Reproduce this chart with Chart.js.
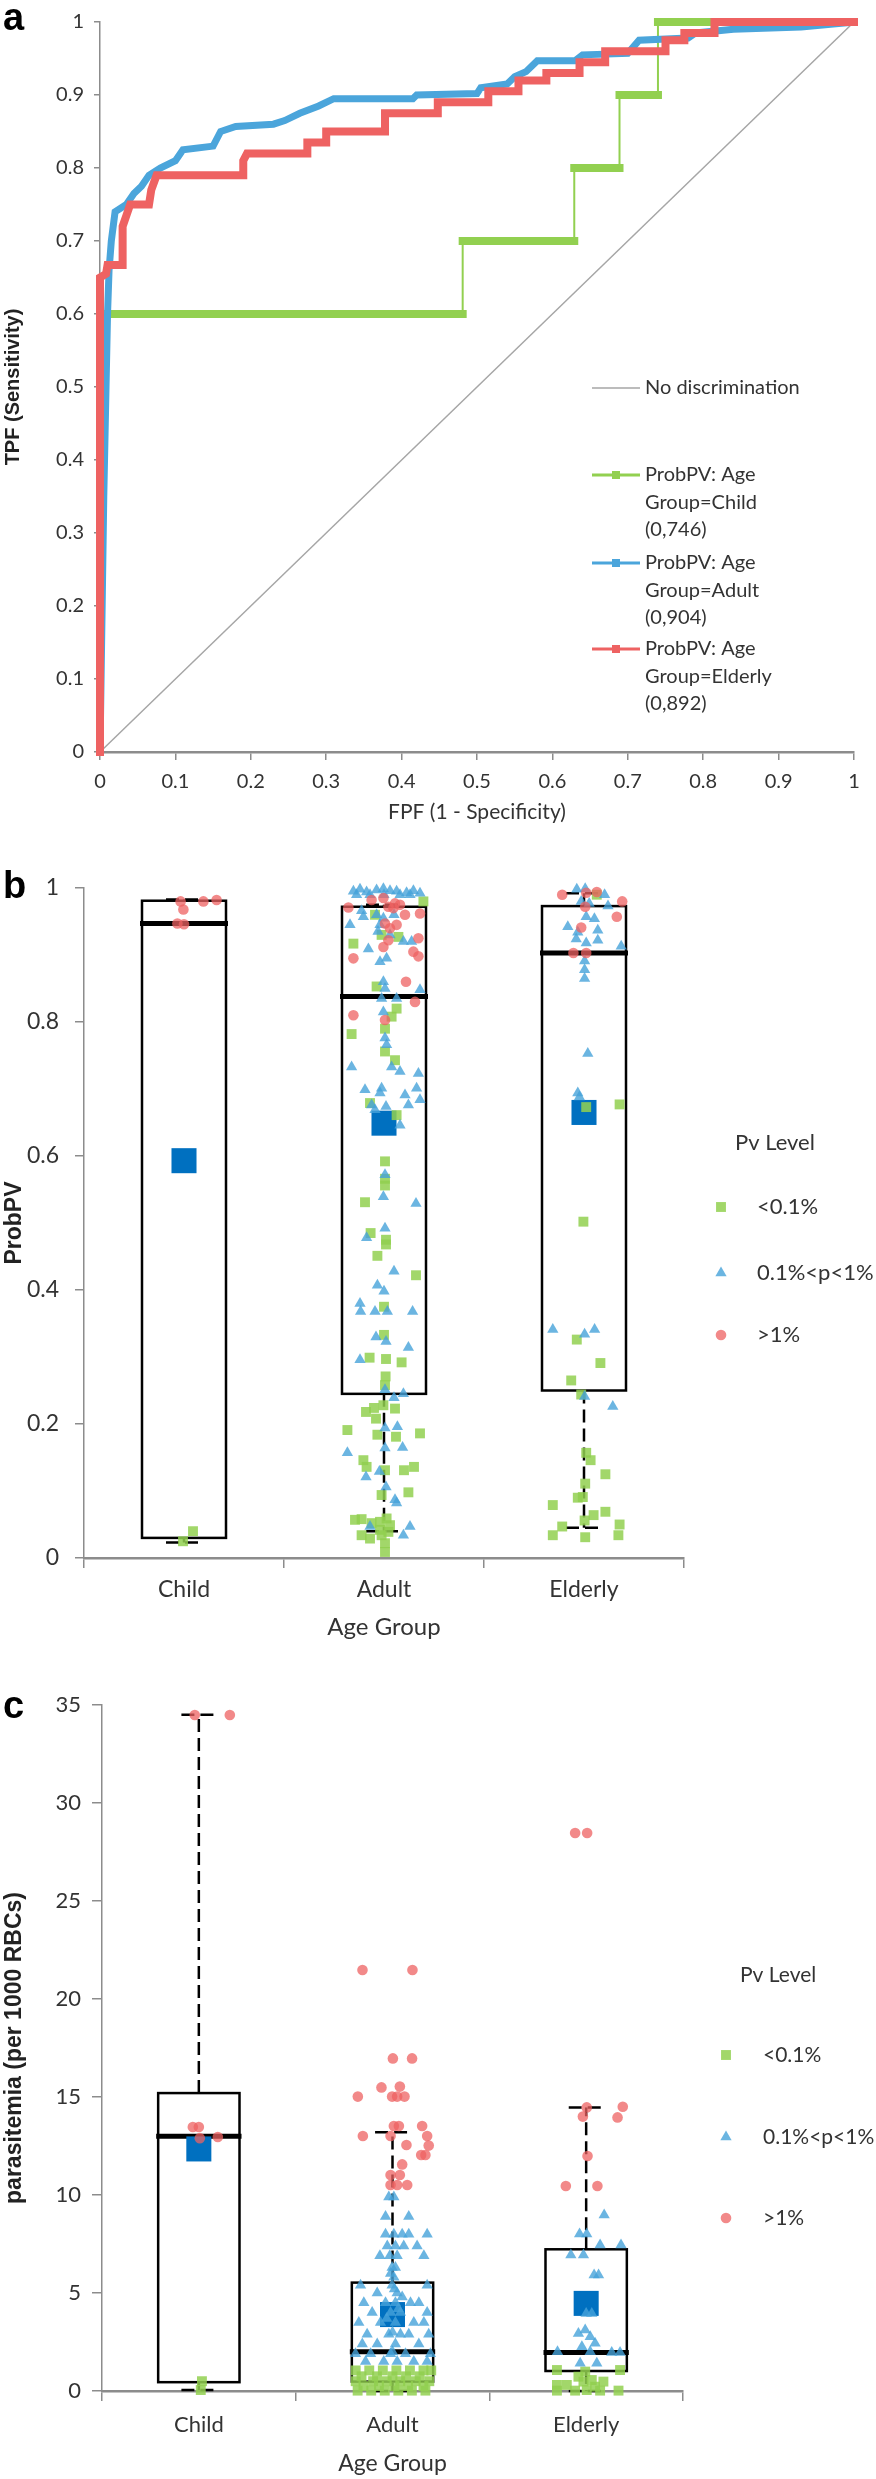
<!DOCTYPE html>
<html>
<head>
<meta charset="utf-8">
<script src="https://cdn.jsdelivr.net/npm/chart.js@4.4.1/dist/chart.umd.min.js"></script>
<style>
  body { margin: 0; background: #fff; }
  #page { position: relative; width: 876px; height: 2479px; overflow: hidden; background: #fff; }
  canvas { position: absolute; left: 0; }
  .letter { position: absolute; left: 3px; font: bold 38px "Liberation Sans", Arial, sans-serif; line-height: 38px; color: #000; }
</style>
</head>
<body>
<div id="page">
  <canvas id="rocChart" width="876" height="830" style="top:0"></canvas>
  <canvas id="probChart" width="876" height="805" style="top:840px"></canvas>
  <canvas id="paraChart" width="876" height="829" style="top:1650px"></canvas>
  <div class="letter" style="top:-2px">a</div>
  <div class="letter" style="top:866px">b</div>
  <div class="letter" style="top:1686px">c</div>
</div>
<script>
// ---- panel a: ROC curves (FPF, TPF) ----
const childFpf = [0, 0, 0.481, 0.481, 0.629, 0.629, 0.689, 0.689, 0.74, 0.74, 1];
const childTpf = [0, 0.6, 0.6, 0.7, 0.7, 0.8, 0.8, 0.9, 0.9, 1, 1];

const adultFpf = [0, 0.005, 0.008, 0.01, 0.012, 0.015, 0.02, 0.035, 0.045, 0.055, 0.065, 0.08, 0.1, 0.11, 0.15, 0.16, 0.18, 0.23, 0.245, 0.265, 0.29, 0.31, 0.415, 0.42, 0.5, 0.505, 0.54, 0.55, 0.565, 0.58, 0.63, 0.64, 0.7, 0.715, 0.78, 0.79, 0.84, 0.93, 1];
const adultTpf = [0, 0.35, 0.5, 0.6, 0.66, 0.7, 0.74, 0.75, 0.765, 0.775, 0.79, 0.8, 0.81, 0.825, 0.83, 0.85, 0.857, 0.86, 0.865, 0.875, 0.885, 0.895, 0.895, 0.9, 0.902, 0.91, 0.915, 0.925, 0.932, 0.947, 0.947, 0.955, 0.957, 0.975, 0.978, 0.985, 0.99, 0.993, 1];

const elderlyFpf = [0, 0, 0.008, 0.01, 0.03, 0.03, 0.035, 0.04, 0.065, 0.068, 0.075, 0.19, 0.19, 0.195, 0.275, 0.275, 0.3, 0.3, 0.378, 0.378, 0.448, 0.448, 0.515, 0.515, 0.555, 0.555, 0.592, 0.592, 0.636, 0.636, 0.67, 0.67, 0.75, 0.75, 0.775, 0.775, 0.815, 0.815, 1];
const elderlyTpf = [0, 0.65, 0.655, 0.667, 0.667, 0.72, 0.735, 0.75, 0.75, 0.77, 0.79, 0.79, 0.81, 0.82, 0.82, 0.835, 0.835, 0.85, 0.85, 0.875, 0.875, 0.89, 0.89, 0.905, 0.905, 0.92, 0.92, 0.93, 0.93, 0.945, 0.945, 0.96, 0.96, 0.975, 0.975, 0.985, 0.985, 1, 1];

const diagonalFpf = [0, 1];
const diagonalTpf = [0, 1];

const rocLegendLines = [
  ['No discrimination'],
  ['ProbPV: Age', 'Group=Child', '(0,746)'],
  ['ProbPV: Age', 'Group=Adult', '(0,904)'],
  ['ProbPV: Age', 'Group=Elderly', '(0,892)'],
];

// ---- panels b and c: categories, levels ----
const ageGroups = ['Child', 'Adult', 'Elderly'];
const levelNames = ['<0.1%', '0.1%<p<1%', '>1%'];
const levelTitle = 'Pv Level';

// box statistics, one value per age group
const probQ1 = [0.03, 0.245, 0.25];
const probMedian = [0.947, 0.838, 0.903];
const probQ3 = [0.981, 0.972, 0.973];
const probWhiskerLow = [0.023, 0.04, 0.045];
const probWhiskerHigh = [0.983, 0.975, 0.992];
const probMean = [0.593, 0.649, 0.665];

const paraQ1 = [0.45, 0.48, 1.02];
const paraMedian = [13.0, 2.0, 1.97];
const paraQ3 = [15.2, 5.53, 7.23];
const paraWhiskerLow = [0.05, 0, 0];
const paraWhiskerHigh = [34.5, 13.2, 14.47];
const paraMean = [12.35, 3.9, 4.47];

// points: [age group (1..3), jitter, value]
const probLow = [
  [1, -0.005, 0.025], [1, 0.045, 0.04],
  [2, 0.197, 0.98], [2, -0.045, 0.96], [2, -0.153, 0.917], [2, -0.012, 0.93], [2, 0.072, 0.927], [2, -0.037, 0.853],
  [2, 0.063, 0.82], [2, 0.038, 0.808], [2, -0.162, 0.782], [2, 0.005, 0.79], [2, 0.005, 0.756], [2, 0.055, 0.743],
  [2, -0.07, 0.679], [2, 0.063, 0.661], [2, 0.005, 0.592], [2, 0.005, 0.566], [2, 0.005, 0.556], [2, -0.095, 0.531],
  [2, -0.067, 0.485], [2, 0.01, 0.475], [2, 0.01, 0.468], [2, -0.033, 0.451], [2, 0.16, 0.422], [2, 0, 0.375],
  [2, 0, 0.333], [2, -0.072, 0.299], [2, 0.01, 0.297], [2, 0.088, 0.292], [2, 0.008, 0.271], [2, 0.005, 0.258],
  [2, -0.09, 0.218], [2, -0.05, 0.224], [2, -0.003, 0.228], [2, 0.055, 0.223], [2, -0.04, 0.208], [2, -0.183, 0.191],
  [2, -0.033, 0.184], [2, 0.06, 0.181], [2, 0.18, 0.186], [2, -0.103, 0.146], [2, -0.087, 0.136], [2, 0.005, 0.131],
  [2, 0.1, 0.131], [2, 0.15, 0.136], [2, -0.012, 0.094], [2, 0.122, 0.098], [2, -0.145, 0.057], [2, -0.112, 0.058],
  [2, -0.062, 0.052], [2, -0.02, 0.054], [2, 0.013, 0.059], [2, 0.03, 0.049], [2, -0.112, 0.034], [2, -0.07, 0.029],
  [2, -0.012, 0.034], [2, 0.005, 0.022], [2, 0.005, 0.009], [2, -0.02, 0.042], [2, 0.022, 0.039],
  [3, 0.064, 0.99], [3, 0.011, 0.673], [3, 0.178, 0.677], [3, -0.003, 0.502], [3, -0.036, 0.326], [3, 0.082, 0.291],
  [3, -0.064, 0.265], [3, -0.014, 0.244], [3, 0.011, 0.157], [3, 0.033, 0.146], [3, 0.107, 0.125], [3, 0.006, 0.111],
  [3, -0.031, 0.09], [3, -0.006, 0.091], [3, -0.156, 0.079], [3, 0.048, 0.064], [3, 0.107, 0.069], [3, 0.003, 0.056],
  [3, -0.109, 0.047], [3, -0.156, 0.034], [3, 0.178, 0.05], [3, 0.172, 0.034], [3, 0.006, 0.031],
];
const probMid = [
  [2, -0.153, 0.995], [2, -0.12, 0.998], [2, -0.087, 0.994], [2, -0.037, 0.997], [2, -0.003, 0.999], [2, 0.03, 0.996],
  [2, 0.063, 0.995], [2, 0.113, 0.993], [2, 0.147, 0.996], [2, 0.18, 0.992],
  [2, -0.137, 0.99], [2, -0.07, 0.99], [2, 0, 0.99], [2, 0.08, 0.99], [2, 0.13, 0.99],
  [2, -0.112, 0.966], [2, -0.103, 0.957], [2, -0.037, 0.96], [2, -0.003, 0.955],
  [2, -0.02, 0.945], [2, 0.03, 0.93], [2, 0.05, 0.96], [2, -0.03, 0.935],
  [2, -0.17, 0.945], [2, -0.078, 0.909], [2, 0.097, 0.92], [2, 0.138, 0.92], [2, -0.02, 0.89], [2, 0.013, 0.895],
  [2, -0.003, 0.86], [2, 0.005, 0.85], [2, -0.012, 0.835], [2, 0.063, 0.835], [2, 0.18, 0.848], [2, -0.003, 0.815],
  [2, 0.005, 0.776], [2, 0.013, 0.766], [2, -0.162, 0.733], [2, 0.038, 0.733], [2, 0.08, 0.726], [2, 0.172, 0.723],
  [2, -0.095, 0.699], [2, -0.012, 0.701], [2, -0.02, 0.694], [2, 0.105, 0.691], [2, 0.163, 0.701], [2, 0.18, 0.684],
  [2, -0.062, 0.676], [2, -0.045, 0.669], [2, 0.01, 0.674], [2, 0.122, 0.676], [2, 0.08, 0.646], [2, 0.005, 0.572],
  [2, -0.003, 0.539], [2, 0.16, 0.529],
  [2, 0.005, 0.492], [2, -0.087, 0.478], [2, 0.05, 0.428], [2, -0.033, 0.407], [2, 0, 0.398], [2, -0.12, 0.38],
  [2, -0.117, 0.368], [2, -0.045, 0.368], [2, 0.017, 0.368], [2, 0.143, 0.368], [2, -0.04, 0.33], [2, 0.01, 0.323],
  [2, 0.122, 0.314], [2, -0.12, 0.296], [2, 0.005, 0.251], [2, 0.05, 0.239], [2, 0.097, 0.245], [2, 0.005, 0.194],
  [2, 0.067, 0.196], [2, -0.183, 0.157], [2, 0.005, 0.164], [2, 0.093, 0.165], [2, -0.023, 0.129], [2, -0.09, 0.121],
  [2, 0.01, 0.106], [2, 0.055, 0.087], [2, 0.063, 0.082], [2, -0.07, 0.047], [2, 0.13, 0.047], [2, 0.097, 0.034],
  [3, -0.036, 0.998], [3, 0.006, 0.999], [3, 0.103, 0.99], [3, -0.014, 0.98], [3, 0.026, 0.977], [3, 0.12, 0.973],
  [3, 0.011, 0.957], [3, 0.052, 0.954], [3, -0.081, 0.942], [3, -0.031, 0.934], [3, 0.069, 0.937], [3, -0.039, 0.924],
  [3, 0.069, 0.922], [3, 0.011, 0.918], [3, 0.186, 0.913], [3, 0.003, 0.891], [3, 0.003, 0.878], [3, 0.003, 0.865],
  [3, 0.019, 0.753], [3, -0.031, 0.694], [3, -0.023, 0.688], [3, -0.156, 0.341], [3, 0.003, 0.334], [3, 0.053, 0.341],
  [3, 0.003, 0.241], [3, 0.144, 0.226],
];
const probHigh = [
  [1, -0.017, 0.98], [1, -0.003, 0.968], [1, 0.097, 0.98], [1, 0.163, 0.982], [1, -0.033, 0.947], [1, 0, 0.946],
  [2, -0.178, 0.971], [2, -0.062, 0.982], [2, -0.003, 0.985], [2, 0.022, 0.972], [2, 0.055, 0.977], [2, 0.047, 0.97],
  [2, 0.08, 0.975], [2, 0.105, 0.96], [2, 0.18, 0.962], [2, 0.005, 0.947], [2, 0.063, 0.945], [2, 0.03, 0.94],
  [2, 0.022, 0.922], [2, -0.003, 0.912], [2, 0.172, 0.925], [2, -0.153, 0.895], [2, 0.147, 0.905], [2, 0.172, 0.898],
  [2, 0.11, 0.86], [2, 0.155, 0.83], [2, -0.153, 0.81], [2, 0.005, 0.803],
  [3, -0.109, 0.99], [3, 0.011, 0.993], [3, 0.064, 0.994], [3, 0.191, 0.98], [3, 0.006, 0.972], [3, 0.164, 0.957],
  [3, -0.014, 0.941], [3, -0.053, 0.903], [3, 0.011, 0.903],
];

const paraLow = [
  [1, 0.016, 0.5], [1, 0.01, 0.05],
  [2, -0.19, 1.05], [2, -0.12, 1.05], [2, -0.05, 1.05], [2, 0.02, 1.05], [2, 0.09, 1.05], [2, 0.16, 1.05], [2, 0.2, 1.05],
  [2, -0.16, 0.75], [2, -0.08, 0.75], [2, 0, 0.75], [2, 0.07, 0.75], [2, 0.14, 0.75],
  [2, -0.19, 0.5], [2, -0.1, 0.5], [2, -0.03, 0.5], [2, 0.04, 0.5], [2, 0.12, 0.5], [2, 0.19, 0.5],
  [2, -0.15, 0.25], [2, -0.07, 0.25], [2, 0.01, 0.25], [2, 0.08, 0.25], [2, 0.16, 0.25],
  [2, -0.18, 0.02], [2, -0.11, 0.02], [2, -0.04, 0.02], [2, 0.03, 0.02], [2, 0.1, 0.02], [2, 0.17, 0.02],
  [3, -0.151, 1.07], [3, 0.175, 1.07], [3, -0.005, 0.99], [3, -0.04, 0.73], [3, -0.151, 0.31], [3, -0.1, 0.31],
  [3, -0.014, 0.48], [3, 0.029, 0.56], [3, 0.089, 0.48], [3, 0.046, 0.22], [3, -0.057, 0.02], [3, -0.151, 0.02],
  [3, 0.072, 0.02], [3, 0.167, 0.02], [3, 0.003, 0.05],
];
const paraMid = [
  [2, -0.019, 9.9], [2, 0.007, 9.9], [2, -0.036, 8.9], [2, 0.084, 8.9],
  [2, -0.036, 8.0], [2, 0.007, 8.0], [2, 0.05, 8.0], [2, 0.084, 8.0], [2, 0.179, 8.0],
  [2, -0.027, 7.4], [2, 0.015, 7.4], [2, 0.058, 7.4], [2, 0.127, 7.4],
  [2, -0.065, 6.9], [2, -0.014, 6.9], [2, 0.024, 6.9], [2, 0.162, 6.9],
  [2, -0.002, 6.3], [2, 0.015, 6.3], [2, 0.007, 5.8], [2, -0.165, 5.4], [2, -0.002, 5.4], [2, 0.179, 5.4],
  [2, -0.079, 5.0], [2, 0.024, 5.0],
  [2, -0.148, 4.5], [2, -0.036, 4.5], [2, 0.015, 4.5], [2, 0.093, 4.5], [2, 0.136, 4.5],
  [2, -0.105, 4.0], [2, -0.01, 4.0], [2, 0.041, 4.0], [2, 0.179, 4.0],
  [2, -0.174, 3.5], [2, -0.062, 3.5], [2, 0.015, 3.5], [2, 0.11, 3.5], [2, 0.162, 3.5],
  [2, -0.131, 2.9], [2, -0.019, 2.9], [2, 0.041, 2.9], [2, 0.084, 2.9], [2, 0.187, 2.9],
  [2, -0.156, 2.4], [2, -0.079, 2.4], [2, 0.015, 2.4], [2, 0.136, 2.4],
  [2, -0.191, 1.9], [2, -0.113, 1.9], [2, -0.01, 1.9], [2, 0.067, 1.9], [2, 0.196, 1.9],
  [2, -0.139, 1.5], [2, -0.045, 1.5], [2, 0.024, 1.5], [2, 0.11, 1.5], [2, 0.179, 1.5],
  [2, 0, 3.0], [2, 0.03, 4.2], [2, 0.01, 5.2], [2, 0, 2.0], [2, -0.03, 3.7], [2, 0.05, 4.8], [2, -0.01, 6.0],
  [3, 0.093, 8.98], [3, -0.034, 8.01], [3, 0.003, 8.01], [3, 0.072, 7.45], [3, 0.18, 7.45], [3, -0.079, 6.94],
  [3, -0.014, 6.94], [3, 0.041, 5.92], [3, 0.064, 5.92], [3, 0, 3.96], [3, 0.029, 3.96], [3, -0.04, 2.94],
  [3, -0.005, 3.11], [3, 0.021, 2.77], [3, 0.046, 2.43], [3, -0.022, 2.26], [3, -0.148, 2.0], [3, 0.021, 2.0],
  [3, 0.132, 1.96], [3, 0.175, 1.96], [3, -0.031, 1.41], [3, 0.055, 1.41],
];
const paraHigh = [
  [1, -0.021, 34.49], [1, 0.16, 34.49], [1, -0.031, 13.47], [1, 0, 13.47], [1, 0.005, 12.9], [1, 0.098, 12.96],
  [2, 0.002, 16.97], [2, 0.101, 16.97], [2, -0.057, 15.49], [2, 0.038, 15.53], [2, -0.179, 15.02], [2, -0.002, 15.02],
  [2, 0.024, 15.02], [2, 0.062, 15.02], [2, 0.007, 13.52], [2, 0.033, 13.52], [2, 0.153, 13.52], [2, -0.153, 13.01],
  [2, -0.01, 13.01], [2, 0.179, 13.01], [2, 0.072, 12.55], [2, 0.187, 12.52], [2, 0.148, 12.04], [2, 0.17, 12.04],
  [2, 0.05, 11.56], [2, -0.01, 11.02], [2, 0.038, 11.02], [2, -0.01, 10.51], [2, 0.024, 10.51], [2, 0.076, 10.51],
  [2, -0.155, 21.48], [2, 0.103, 21.48],
  [3, 0.003, 14.47], [3, -0.017, 14.0], [3, 0.189, 14.5], [3, 0.162, 13.96], [3, 0.007, 11.99], [3, -0.105, 10.46],
  [3, 0.058, 10.46], [3, -0.057, 28.47], [3, 0.005, 28.47],
];

// ---- styling ----
const FONT = 'Lato, "Liberation Sans", sans-serif';
const TITLE_FONT = '"Liberation Sans", Arial, sans-serif';
const AXIS = '#8c8c8c';
const TEXT = '#333333';
const ROC_COLORS = ['#92d050', '#4ba5db', '#ee6262'];
const DIAG_COLOR = '#a6a6a6';
const LEVEL_COLORS = ['rgba(146, 208, 80, 0.85)', 'rgba(70, 163, 218, 0.8)', 'rgba(238, 98, 98, 0.75)'];
const LEVEL_STYLES = ['rect', 'triangle', 'circle'];
const LEVEL_RADII = [7, 6.5, 5.3];
const MEAN_COLOR = '#0070c0';

Chart.defaults.font.family = FONT;
Chart.defaults.color = TEXT;
Chart.defaults.animation = false;
Chart.defaults.events = [];
Chart.defaults.plugins.legend.display = false;
Chart.defaults.plugins.tooltip.enabled = false;

const zip = (xs, ys) => xs.map((x, i) => ({ x, y: ys[i] }));
const toPoints = (rows) => rows.map(([g, j, v]) => ({ x: g + j, y: v }));
const plainNumber = (v) => String(Number(v.toFixed(2)));

// ---- panel a ----
const rocLegendPlugin = {
  id: 'rocLegend',
  afterDatasetsDraw(chart) {
    const ctx = chart.ctx;
    const colors = [DIAG_COLOR, ...ROC_COLORS];
    const tops = [388, 475, 563, 649];
    ctx.save();
    ctx.font = '20px ' + FONT;
    ctx.textBaseline = 'middle';
    rocLegendLines.forEach((lines, i) => {
      const y = tops[i];
      ctx.strokeStyle = colors[i];
      ctx.lineWidth = i === 0 ? 1.5 : 3;
      ctx.beginPath();
      ctx.moveTo(592, y);
      ctx.lineTo(640, y);
      ctx.stroke();
      if (i > 0) {
        ctx.fillStyle = colors[i];
        ctx.fillRect(612, y - 4, 8, 8);
      }
      ctx.fillStyle = TEXT;
      lines.forEach((t, k) => ctx.fillText(t, 645, y + k * 27.5));
    });
    ctx.restore();
  },
};

const rocLine = (data, color, order, extra) => Object.assign({
  data, showLine: true, borderColor: color, backgroundColor: color,
  pointRadius: 0, order, clip: false,
  borderCapStyle: 'square', borderJoinStyle: 'miter',
}, extra);

new Chart(document.getElementById('rocChart'), {
  type: 'scatter',
  data: {
    datasets: [
      rocLine(zip(diagonalFpf, diagonalTpf), DIAG_COLOR, 4, { borderWidth: 1.5, borderCapStyle: 'butt' }),
      rocLine(zip(childFpf, childTpf), ROC_COLORS[0], 3, {
        borderWidth: 2,
        segment: { borderWidth: (c) => (c.p0.parsed.y === c.p1.parsed.y ? 8 : 2) },
      }),
      rocLine(zip(adultFpf, adultTpf), ROC_COLORS[1], 2, { borderWidth: 7 }),
      rocLine(zip(elderlyFpf, elderlyTpf), ROC_COLORS[2], 1, { borderWidth: 8 }),
    ],
  },
  options: {
    responsive: false,
    layout: { padding: { top: 12, right: 22, bottom: 5, left: 0 } },
    scales: {
      x: {
        type: 'linear', min: 0, max: 1,
        ticks: { stepSize: 0.1, font: { size: 20 }, padding: 10, maxRotation: 0, color: TEXT, callback: plainNumber },
        grid: { drawOnChartArea: false, tickLength: 8, color: AXIS, lineWidth: 1.5 },
        border: { color: AXIS, width: 2.5 },
        title: { display: true, text: 'FPF (1 - Specificity)', font: { size: 21 }, padding: 0, color: TEXT },
        afterFit: (s) => { s.height = 73; },
      },
      y: {
        type: 'linear', min: 0, max: 1,
        ticks: { stepSize: 0.1, font: { size: 20 }, padding: 10, color: TEXT, callback: plainNumber },
        grid: { drawOnChartArea: false, tickLength: 6, color: AXIS, lineWidth: 1.5 },
        border: { color: AXIS, width: 1.5 },
        title: { display: true, text: 'TPF (Sensitivity)', font: { family: TITLE_FONT, size: 20, weight: 'bold' }, padding: { top: 1, bottom: 0 }, color: '#222' },
        afterFit: (s) => { s.width = 100; },
      },
    },
  },
  plugins: [rocLegendPlugin],
});

// ---- panels b and c ----
function makeBoxPlugin(stats, halfWidth, capHalf) {
  return {
    id: 'boxes',
    beforeDatasetsDraw(chart) {
      const { ctx, scales: { x, y } } = chart;
      ctx.save();
      ctx.strokeStyle = '#000';
      stats.q1.forEach((q1, i) => {
        const g = i + 1;
        const left = x.getPixelForValue(g - halfWidth);
        const right = x.getPixelForValue(g + halfWidth);
        const cx = x.getPixelForValue(g);
        const top = y.getPixelForValue(stats.q3[i]);
        const bottom = y.getPixelForValue(q1);
        const med = y.getPixelForValue(stats.median[i]);
        const hi = y.getPixelForValue(stats.whiskerHigh[i]);
        const lo = y.getPixelForValue(stats.whiskerLow[i]);
        const capL = x.getPixelForValue(g - capHalf);
        const capR = x.getPixelForValue(g + capHalf);
        // whiskers and caps, dashed
        ctx.lineWidth = 2.5;
        ctx.setLineDash([13, 6]);
        ctx.beginPath();
        ctx.moveTo(cx, top); ctx.lineTo(cx, hi);
        ctx.moveTo(cx, bottom); ctx.lineTo(cx, lo);
        ctx.moveTo(capL, hi); ctx.lineTo(capR, hi);
        ctx.moveTo(capL, lo); ctx.lineTo(capR, lo);
        ctx.stroke();
        // box
        ctx.setLineDash([]);
        ctx.lineWidth = 2.5;
        ctx.strokeRect(left, top, right - left, bottom - top);
        // median
        ctx.lineWidth = 5;
        ctx.beginPath();
        ctx.moveTo(left - 2, med); ctx.lineTo(right + 2, med);
        ctx.stroke();
      });
      ctx.restore();
    },
  };
}

function makeLevelLegend(pos, size) {
  return {
    id: 'levelLegend',
    afterDraw(chart) {
      const ctx = chart.ctx;
      ctx.save();
      ctx.font = size + 'px ' + FONT;
      ctx.textBaseline = 'middle';
      ctx.fillStyle = TEXT;
      ctx.fillText(levelTitle, pos.titleX, pos.titleY);
      levelNames.forEach((name, i) => {
        ctx.fillStyle = LEVEL_COLORS[i];
        Chart.helpers.drawPoint(ctx, { pointStyle: LEVEL_STYLES[i], radius: LEVEL_RADII[i], borderWidth: 0, rotation: 0 }, pos.markerX, pos.rows[i]);
        ctx.fillStyle = TEXT;
        ctx.fillText(name, pos.textX, pos.rows[i]);
      });
      ctx.restore();
    },
  };
}

function boxChart(id, cfg) {
  const levels = [cfg.low, cfg.mid, cfg.high];
  const datasets = levels.map((rows, i) => ({
    label: levelNames[i],
    data: toPoints(rows),
    pointStyle: LEVEL_STYLES[i],
    pointRadius: LEVEL_RADII[i],
    pointBackgroundColor: LEVEL_COLORS[i],
    pointBorderWidth: 0,
    order: 3 - i,
  }));
  datasets.push({
    label: 'Mean',
    data: cfg.stats.mean.map((v, i) => ({ x: i + 1, y: v })),
    pointStyle: 'rect',
    pointRadius: 17.7,
    pointBackgroundColor: MEAN_COLOR,
    pointBorderWidth: 0,
    order: 5,
  });
  return new Chart(document.getElementById(id), {
    type: 'scatter',
    data: { datasets },
    options: {
      responsive: false,
      clip: false,
      layout: { padding: cfg.padding },
      scales: {
        x: {
          type: 'linear', min: 0.5, max: ageGroups.length + 0.5,
          afterBuildTicks: (s) => {
            s.ticks = [];
            for (let v = 0.5; v <= ageGroups.length + 0.5; v += 0.5) s.ticks.push({ value: v });
          },
          ticks: {
            autoSkip: false, maxRotation: 0, font: { size: cfg.fontSize }, padding: cfg.xPad, color: TEXT,
            callback: (v) => (Number.isInteger(v) ? ageGroups[v - 1] : ''),
          },
          grid: {
            drawOnChartArea: false, tickLength: 10, lineWidth: 1.5,
            color: (c) => (c.tick && Number.isInteger(c.tick.value) ? 'rgba(0,0,0,0)' : AXIS),
          },
          border: { color: AXIS, width: 2.5 },
          title: { display: true, text: 'Age Group', font: { size: cfg.fontSize + 1 }, padding: 0, color: TEXT },
          afterFit: (s) => { s.height = cfg.xHeight; },
        },
        y: {
          type: 'linear', min: 0, max: cfg.yMax,
          ticks: { stepSize: cfg.yStep, font: { size: cfg.fontSize }, padding: cfg.yPad, color: TEXT, callback: plainNumber },
          grid: { drawOnChartArea: false, tickLength: cfg.yTick, color: AXIS, lineWidth: 1.5 },
          border: { color: AXIS, width: 1.5 },
          title: { display: true, text: cfg.yTitle, font: { family: TITLE_FONT, size: 23, weight: 'bold' }, padding: { top: 1, bottom: 0 }, color: '#222' },
          afterFit: (s) => { s.width = cfg.yWidth; },
        },
      },
    },
    plugins: [
      makeBoxPlugin(cfg.stats, 0.21, 0.09),
      makeLevelLegend(cfg.legend, cfg.fontSize - 1),
    ],
  });
}

boxChart('probChart', {
  low: probLow, mid: probMid, high: probHigh,
  stats: { q1: probQ1, median: probMedian, q3: probQ3, whiskerLow: probWhiskerLow, whiskerHigh: probWhiskerHigh, mean: probMean },
  yMax: 1, yStep: 0.2, yTitle: 'ProbPV',
  fontSize: 23, xPad: 8, yPad: 16, yTick: 9, yWidth: 84, xHeight: 84,
  padding: { top: 48, right: 192, bottom: 3, left: 0 },
  legend: { titleX: 735, titleY: 303, markerX: 721, textX: 757, rows: [367, 433, 495] },
});

boxChart('paraChart', {
  low: paraLow, mid: paraMid, high: paraHigh,
  stats: { q1: paraQ1, median: paraMedian, q3: paraQ3, whiskerLow: paraWhiskerLow, whiskerHigh: paraWhiskerHigh, mean: paraMean },
  yMax: 35, yStep: 5, yTitle: 'parasitemia (per 1000 RBCs)',
  fontSize: 22, xPad: 11, yPad: 11, yTick: 10, yWidth: 102, xHeight: 86,
  padding: { top: 55, right: 193, bottom: 2, left: 0 },
  legend: { titleX: 740, titleY: 325, markerX: 726, textX: 763, rows: [405, 487, 568] },
});
</script>
</body>
</html>
